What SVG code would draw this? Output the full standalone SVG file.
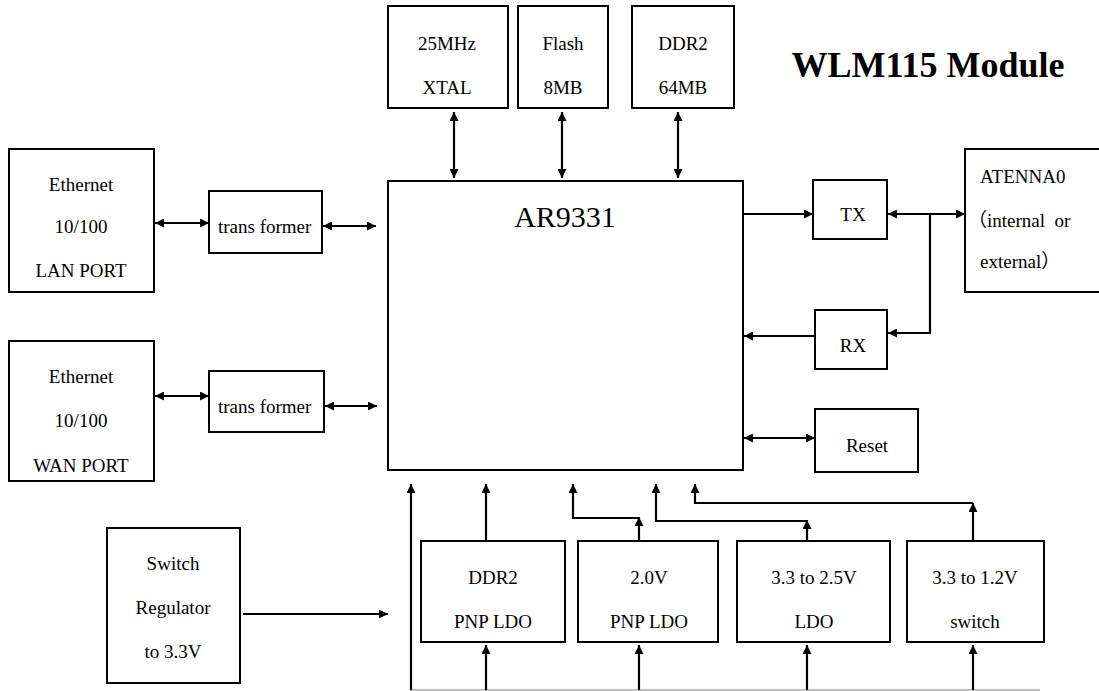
<svg xmlns="http://www.w3.org/2000/svg" width="1099" height="691" viewBox="0 0 1099 691" font-family="Liberation Serif, Times New Roman, Noto Sans CJK SC, serif">
<style>
.box{fill:#fff;stroke:#000;stroke-width:2}
.t{text-anchor:middle}
.ln{fill:none;stroke:#000;stroke-width:2.2}
.a{marker-end:url(#ah)}
.b{marker-start:url(#ah);marker-end:url(#ah)}
</style>
<defs>
<marker id="ah" viewBox="0 0 10 10" refX="10" refY="5" markerWidth="10" markerHeight="9" markerUnits="userSpaceOnUse" orient="auto-start-reverse">
<path d="M0,0 L10,5 L0,10 z" fill="#000"/>
</marker>
</defs>
<rect width="1099" height="691" fill="#fff"/>
<text x="928" y="77" font-size="36" font-weight="bold" text-anchor="middle">WLM115 Module</text>
<g font-size="19" font-family="Liberation Serif, serif">
<g id="xtal"><rect class="box" x="388" y="6" width="120" height="102"/><text class="t" x="447" y="50">25MHz</text><text class="t" x="447" y="94">XTAL</text></g>
<g id="flash"><rect class="box" x="518" y="6" width="90" height="102"/><text class="t" x="563" y="50">Flash</text><text class="t" x="563" y="94">8MB</text></g>
<g id="ddr2"><rect class="box" x="632" y="6" width="102" height="102"/><text class="t" x="683" y="50">DDR2</text><text class="t" x="683" y="94">64MB</text></g>

<g id="ar9331"><rect class="box" x="388" y="181" width="355" height="289"/><text x="565" y="227" font-size="30" text-anchor="middle">AR9331</text></g>

<g id="lan"><rect class="box" x="9" y="149" width="145" height="143"/><text class="t" x="81" y="191">Ethernet</text><text class="t" x="81" y="233">10/100</text><text class="t" x="81" y="277">LAN PORT</text></g>
<g id="tr1"><rect class="box" x="209" y="191" width="113" height="62"/><text x="218" y="233">trans former</text></g>
<g id="wan"><rect class="box" x="9" y="341" width="145" height="140"/><text class="t" x="81" y="383">Ethernet</text><text class="t" x="81" y="427">10/100</text><text class="t" x="81" y="472">WAN PORT</text></g>
<g id="tr2"><rect class="box" x="209" y="371" width="115" height="61"/><text x="218" y="413">trans former</text></g>

<g id="tx"><rect class="box" x="813" y="180" width="74" height="59"/><text class="t" x="853" y="221">TX</text></g>
<g id="rx"><rect class="box" x="815" y="310" width="72" height="59"/><text class="t" x="853" y="352">RX</text></g>
<g id="reset"><rect class="box" x="815" y="409" width="103" height="63"/><text class="t" x="867" y="452">Reset</text></g>
<g id="antenna"><rect class="box" x="965" y="149" width="140" height="143"/><text x="980" y="183">ATENNA0</text><text x="968" y="227" xml:space="preserve" font-family="Liberation Serif, Noto Sans CJK SC, serif">（internal  or</text><text x="980" y="268" font-family="Liberation Serif, Noto Sans CJK SC, serif">external）</text></g>

<g id="swreg"><rect class="box" x="107" y="528" width="133" height="155"/><text class="t" x="173" y="570">Switch</text><text class="t" x="173" y="614">Regulator</text><text class="t" x="173" y="658">to 3.3V</text></g>
<g id="ldo1"><rect class="box" x="421" y="541" width="144" height="101"/><text class="t" x="493" y="584">DDR2</text><text class="t" x="493" y="628">PNP LDO</text></g>
<g id="ldo2"><rect class="box" x="578" y="541" width="140" height="101"/><text class="t" x="649" y="584">2.0V</text><text class="t" x="649" y="628">PNP LDO</text></g>
<g id="ldo3"><rect class="box" x="737" y="541" width="153" height="101"/><text class="t" x="814" y="584">3.3 to 2.5V</text><text class="t" x="814" y="628">LDO</text></g>
<g id="sw12"><rect class="box" x="907" y="541" width="137" height="101"/><text class="t" x="975" y="584">3.3 to 1.2V</text><text class="t" x="975" y="628">switch</text></g>
</g>
<g id="connectors">
<line class="ln b" x1="454" y1="112" x2="454" y2="178"/>
<line class="ln b" x1="562" y1="112" x2="562" y2="178"/>
<line class="ln b" x1="678" y1="112" x2="678" y2="178"/>
<line class="ln b" x1="155" y1="223" x2="209" y2="223"/>
<line class="ln b" x1="323" y1="226" x2="376" y2="226"/>
<line class="ln b" x1="155" y1="396" x2="209" y2="396"/>
<line class="ln b" x1="325" y1="406" x2="377" y2="406"/>
<line class="ln a" x1="743" y1="214" x2="813" y2="214"/>
<line class="ln b" x1="888" y1="214" x2="965" y2="214"/>
<polyline class="ln a" points="930,214 930,333 888,333"/>
<line class="ln a" x1="815" y1="336" x2="744" y2="336"/>
<line class="ln b" x1="744" y1="438" x2="815" y2="438"/>
<line class="ln a" x1="243" y1="614" x2="388" y2="614"/>
<line x1="410" y1="690" x2="1040" y2="690" stroke="#aaa" stroke-width="1.5"/>
<line class="ln a" x1="411" y1="690" x2="411" y2="484"/>
<line class="ln a" x1="486" y1="541" x2="486" y2="484"/>
<line class="ln a" x1="639" y1="541" x2="639" y2="517"/>
<polyline class="ln a" points="639,518 573,518 573,484"/>
<line class="ln a" x1="807" y1="541" x2="807" y2="520"/>
<polyline class="ln a" points="807,521 656,521 656,484"/>
<line class="ln a" x1="973" y1="541" x2="973" y2="503"/>
<polyline class="ln a" points="973,503 695,503 695,484"/>
<line class="ln a" x1="486" y1="690" x2="486" y2="645"/>
<line class="ln a" x1="639" y1="690" x2="639" y2="645"/>
<line class="ln a" x1="807" y1="690" x2="807" y2="645"/>
<line class="ln a" x1="973" y1="690" x2="973" y2="645"/>
</g>
</svg>
